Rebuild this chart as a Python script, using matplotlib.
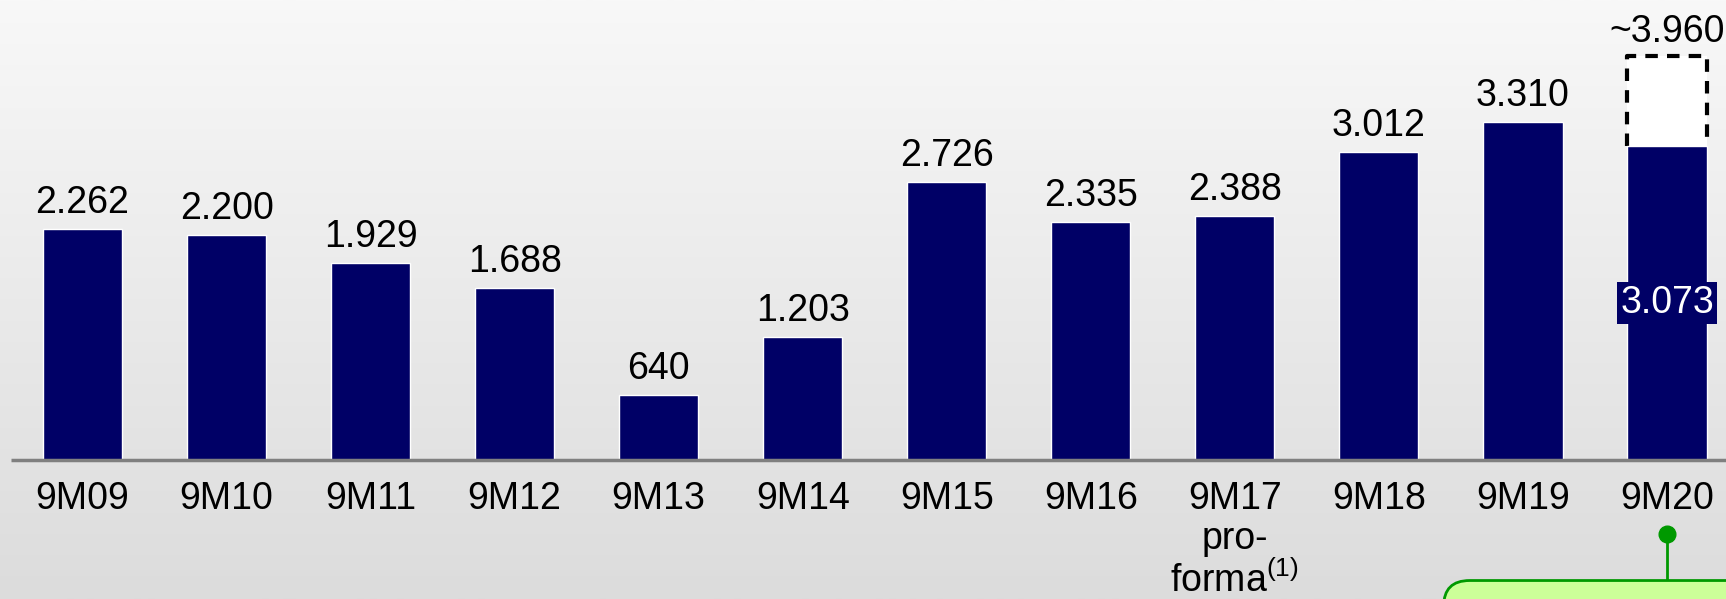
import numpy as np
import matplotlib.pyplot as plt
from matplotlib.patches import FancyBboxPatch
from matplotlib.colors import LinearSegmentedColormap

plt.rcParams['font.family'] = ['Liberation Sans', 'DejaVu Sans']
plt.rcParams['mathtext.fontset'] = 'custom'
plt.rcParams['mathtext.rm'] = 'Liberation Sans'

# data
periods = ["9M09", "9M10", "9M11", "9M12", "9M13", "9M14",
           "9M15", "9M16", "9M17\npro-\nforma$^{(1)}$", "9M18", "9M19", "9M20"]
values = [2262, 2200, 1929, 1688, 640, 1203, 2726, 2335, 2388, 3012, 3310, 3073]
value_labels = ["2.262", "2.200", "1.929", "1.688", "640", "1.203",
                "2.726", "2.335", "2.388", "3.012", "3.310", "3.073"]
target_value = 3960
target_label = "~3.960"

navy = "#000066"
fs = 27

fig = plt.figure(figsize=(17.26, 5.99), dpi=100)
ax = fig.add_axes([0, 0, 1, 1])
x0, x1 = -0.573, 11.41
y0, y1 = -1361, 4505
ax.set_xlim(x0, x1)
ax.set_ylim(y0, y1)
ax.axis("off")

# background gradient
bg = LinearSegmentedColormap.from_list("bg", ["#f8f8f8", "#dcdcdc"])
grad = np.linspace(0, 1, 256).reshape(-1, 1)
ax.imshow(grad, extent=[x0, x1, y0, y1], aspect="auto", cmap=bg,
          origin="upper", zorder=0)

x = np.arange(len(values))
last = len(values) - 1
w = 0.55

ax.bar(x, values, width=w, color=navy, edgecolor="white",
       linewidth=1.0, zorder=3)

# baseline
ax.plot([-0.5, x1], [0, 0], color="#808080", lw=2.5, zorder=4,
        solid_capstyle="butt")

# value labels
for i, (v, lab) in enumerate(zip(values, value_labels)):
    if i == last:
        ax.text(i, 1540, lab, ha="center", va="center", fontsize=fs,
                color="white", zorder=6,
                bbox=dict(boxstyle="square,pad=0.08", fc=navy, ec="none"))
    else:
        ax.annotate(lab, (i, v), xytext=(0, 11.5), textcoords="offset points",
                    ha="center", va="baseline", fontsize=fs, zorder=6)

# dashed target box (open at the bottom)
ax.fill_between([last - w / 2, last + w / 2], values[last], target_value,
                color="white", lw=0, zorder=2)
ax.plot([last - w / 2, last - w / 2, last + w / 2, last + w / 2],
        [values[last], target_value, target_value, values[last]],
        color="black", lw=3, ls=(0, (3, 2.2)), zorder=2)
ax.annotate(target_label, (last, target_value), xytext=(0, 9.5),
            textcoords="offset points", ha="center", va="baseline",
            fontsize=fs, zorder=6)

# category labels
for i, p in enumerate(periods):
    ax.annotate(p, (i, 0), xytext=(0, -15), textcoords="offset points",
                ha="center", va="top", fontsize=fs, linespacing=1.15,
                zorder=6)

# green callout
ax.plot([last, last], [-720, -1180], color="#009900", lw=2, zorder=5)
ax.plot(last, -720, "o", color="#009900", ms=12, zorder=6)
ax.add_patch(FancyBboxPatch((9.45, -1700), 3, 520,
                            boxstyle="round,pad=0,rounding_size=0.18",
                            mutation_aspect=1400, fc="#ccff99",
                            ec="#009900", lw=2, zorder=5))

fig.savefig("out.png", dpi=100)
